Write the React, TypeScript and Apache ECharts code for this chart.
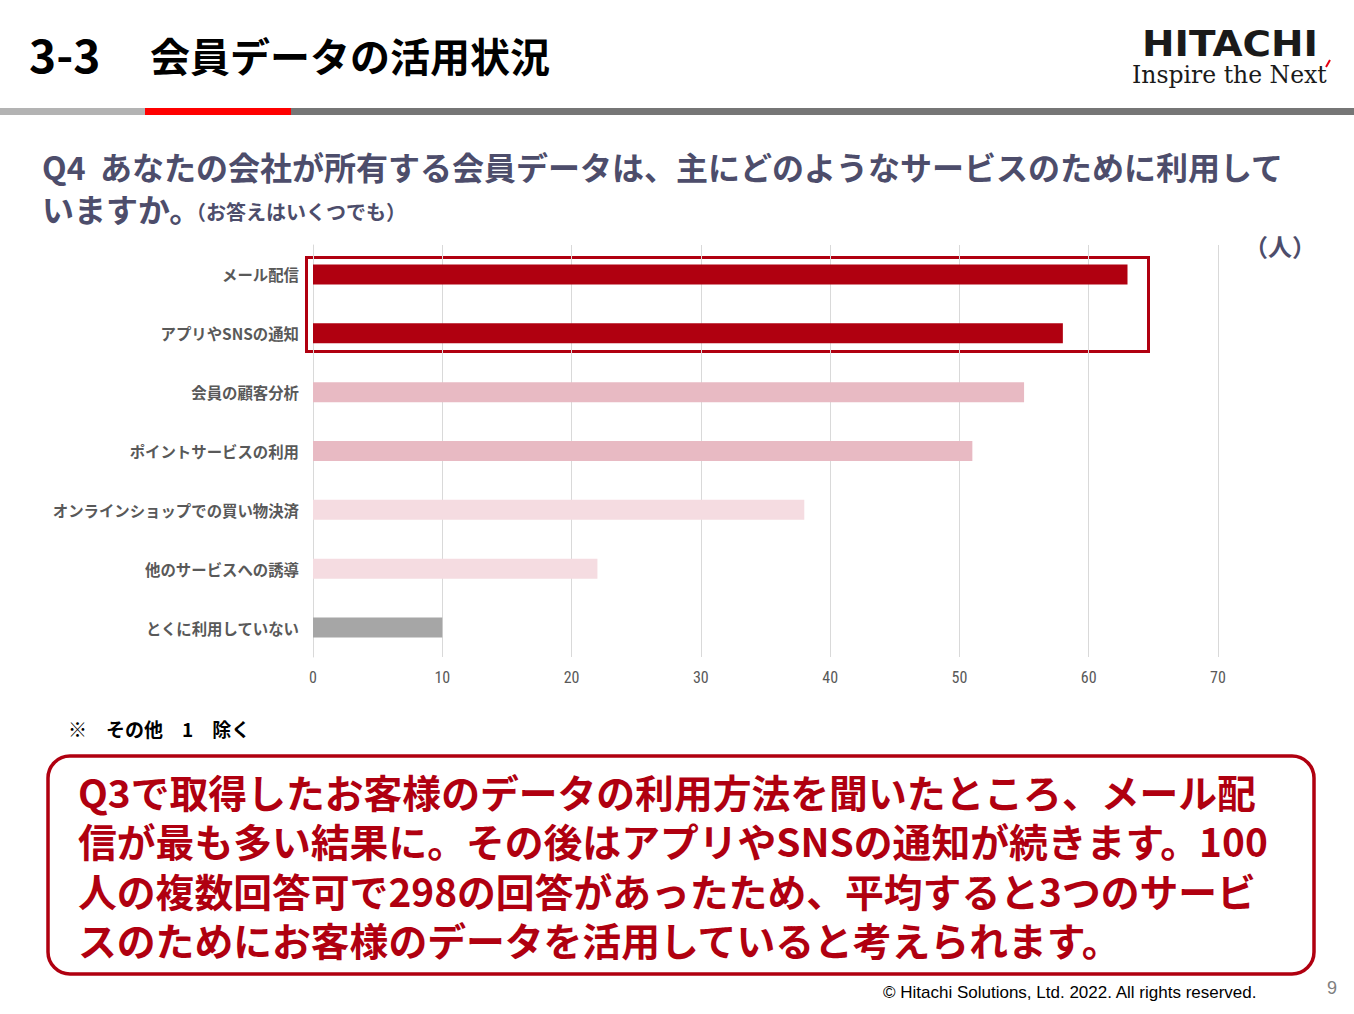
import React, { useEffect, useRef } from "react";
import * as echarts from "echarts";

const categories = [
  "メール配信",
  "アプリやSNSの通知",
  "会員の顧客分析",
  "ポイントサービスの利用",
  "オンラインショップでの買い物決済",
  "他のサービスへの誘導",
  "とくに利用していない",
];
const values = [63, 58, 55, 51, 38, 22, 10];
const barColors = ["#B00010", "#B00010", "#E8BAC3", "#E8BAC3", "#F5DCE1", "#F5DCE1", "#A6A6A6"];
const xTicks = { min: 0, max: 70, interval: 10 };

const titleNo = "3-3";
const titleText = "会員データの活用状況";
const questionLine1 = "Q4  あなたの会社が所有する会員データは、主にどのようなサービスのために利用して";
const questionLine2a = "いますか。";
const questionLine2b = "（お答えはいくつでも）";
const unitText = "（人）";
const noteText = "※　その他　1　除く";
const summaryLines = [
  "Q3で取得したお客様のデータの利用方法を聞いたところ、メール配",
  "信が最も多い結果に。その後はアプリやSNSの通知が続きます。100",
  "人の複数回答可で298の回答があったため、平均すると3つのサービ",
  "スのためにお客様のデータを活用していると考えられます。",
];
const footerText = "© Hitachi Solutions, Ltd. 2022. All rights reserved.";
const pageNo = "9";

const JP = '"Noto Sans CJK JP", "Noto Sans", sans-serif';
const Q_COLOR = "#4D4D6B";
const RED = "#B00010";

export default function App() {
  const ref = useRef<HTMLDivElement>(null);
  useEffect(() => {
    document.body.style.margin = "0";
    const chart = echarts.init(ref.current!, null, { renderer: "svg" });
    const option: any = {
      animation: false,
      backgroundColor: "#ffffff",
      grid: { left: 313, right: 136, top: 245, bottom: 357, containLabel: false },
      xAxis: {
        type: "value",
        min: xTicks.min,
        max: xTicks.max,
        interval: xTicks.interval,
        axisLine: { show: false },
        axisTick: { show: false },
        splitLine: { show: true, lineStyle: { color: "#D9D9D9", width: 1 } },
        axisLabel: { color: "#595959", fontSize: 16, margin: 12, fontFamily: '"Roboto Condensed", "Liberation Sans Narrow", Roboto, sans-serif' },
      },
      yAxis: {
        type: "category",
        inverse: true,
        data: categories,
        axisLine: { show: true, lineStyle: { color: "#D9D9D9", width: 1 } },
        axisTick: { show: false },
        splitLine: { show: false },
        axisLabel: { color: "#595959", fontSize: 15.4, fontWeight: "bold", margin: 14, fontFamily: JP },
      },
      series: [
        {
          type: "bar",
          barWidth: 20,
          data: values.map((v, i) => ({ value: v, itemStyle: { color: barColors[i] } })),
          silent: true,
        },
      ],
      graphic: [
        // title
        {
          type: "text",
          left: 29,
          top: 30,
          style: { text: titleNo, fontSize: 46, fontWeight: "bold", fill: "#000000", fontFamily: JP },
        },
        {
          type: "text",
          left: 150,
          top: 35,
          style: { text: titleText, fontSize: 40, fontWeight: "bold", fill: "#000000", fontFamily: JP },
        },
        // header bars
        { type: "rect", shape: { x: 0, y: 108, width: 145, height: 7 }, style: { fill: "#B3B3B3" } },
        { type: "rect", shape: { x: 145, y: 108, width: 146, height: 7 }, style: { fill: "#FF0000" } },
        { type: "rect", shape: { x: 291, y: 108, width: 1063, height: 7 }, style: { fill: "#767676" } },
        // logo
        {
          type: "text",
          x: 1142,
          y: 26,
          scaleX: 1.08,
          style: { text: "HITACHI", fontSize: 36, fontWeight: "bold", fill: "#1a1a1a", fontFamily: '"DejaVu Sans", sans-serif' },
        },
        {
          type: "text",
          left: 1132,
          top: 63,
          style: { text: "Inspire the Next", fontSize: 23.5, fill: "#1a1a1a", fontFamily: '"DejaVu Serif", serif' },
        },
        { type: "line", shape: { x1: 1326, y1: 67, x2: 1330, y2: 60 }, style: { stroke: "#E60012", lineWidth: 2 } },
        // question
        {
          type: "text",
          left: 42,
          top: 150,
          style: { text: questionLine1, fontSize: 32, fontWeight: "bold", fill: Q_COLOR, fontFamily: JP },
        },
        {
          type: "text",
          left: 42,
          top: 192,
          style: { text: questionLine2a, fontSize: 32, fontWeight: "bold", fill: Q_COLOR, fontFamily: JP },
        },
        {
          type: "text",
          left: 186,
          top: 201,
          style: { text: questionLine2b, fontSize: 20, fontWeight: "bold", fill: Q_COLOR, fontFamily: JP },
        },
        {
          type: "text",
          left: 1244,
          top: 233,
          style: { text: unitText, fontSize: 24, fontWeight: "bold", fill: Q_COLOR, fontFamily: JP },
        },
        // highlight box
        {
          type: "rect",
          shape: { x: 306.5, y: 257.5, width: 842, height: 94 },
          style: { fill: "none", stroke: RED, lineWidth: 3 },
        },
        // note
        {
          type: "text",
          left: 68,
          top: 719,
          style: { text: noteText, fontSize: 19, fontWeight: "bold", fill: "#000000", fontFamily: JP },
        },
        // summary box
        {
          type: "rect",
          shape: { x: 48, y: 756, width: 1266, height: 218, r: 22 },
          style: { fill: "#ffffff", stroke: RED, lineWidth: 3.5 },
        },
        {
          type: "text",
          left: 78,
          top: 766,
          style: {
            text: summaryLines.join("\n"),
            fontSize: 38.8,
            lineHeight: 49.5,
            fontWeight: "bold",
            fill: RED,
            fontFamily: JP,
          },
        },
        // footer
        {
          type: "text",
          left: 883,
          top: 984,
          style: { text: footerText, fontSize: 17, fill: "#000000", fontFamily: '"Liberation Sans", Arial, sans-serif' },
        },
        {
          type: "text",
          left: 1327,
          top: 979,
          style: { text: pageNo, fontSize: 18, fill: "#808080", fontFamily: '"Liberation Sans", Arial, sans-serif' },
        },
      ],
    };
    chart.setOption(option);
    return () => chart.dispose();
  }, []);
  return (
    <div
      ref={ref}
      style={{ position: "absolute", left: 0, top: 0, width: 1354, height: 1014, background: "#fff" }}
    />
  );
}
